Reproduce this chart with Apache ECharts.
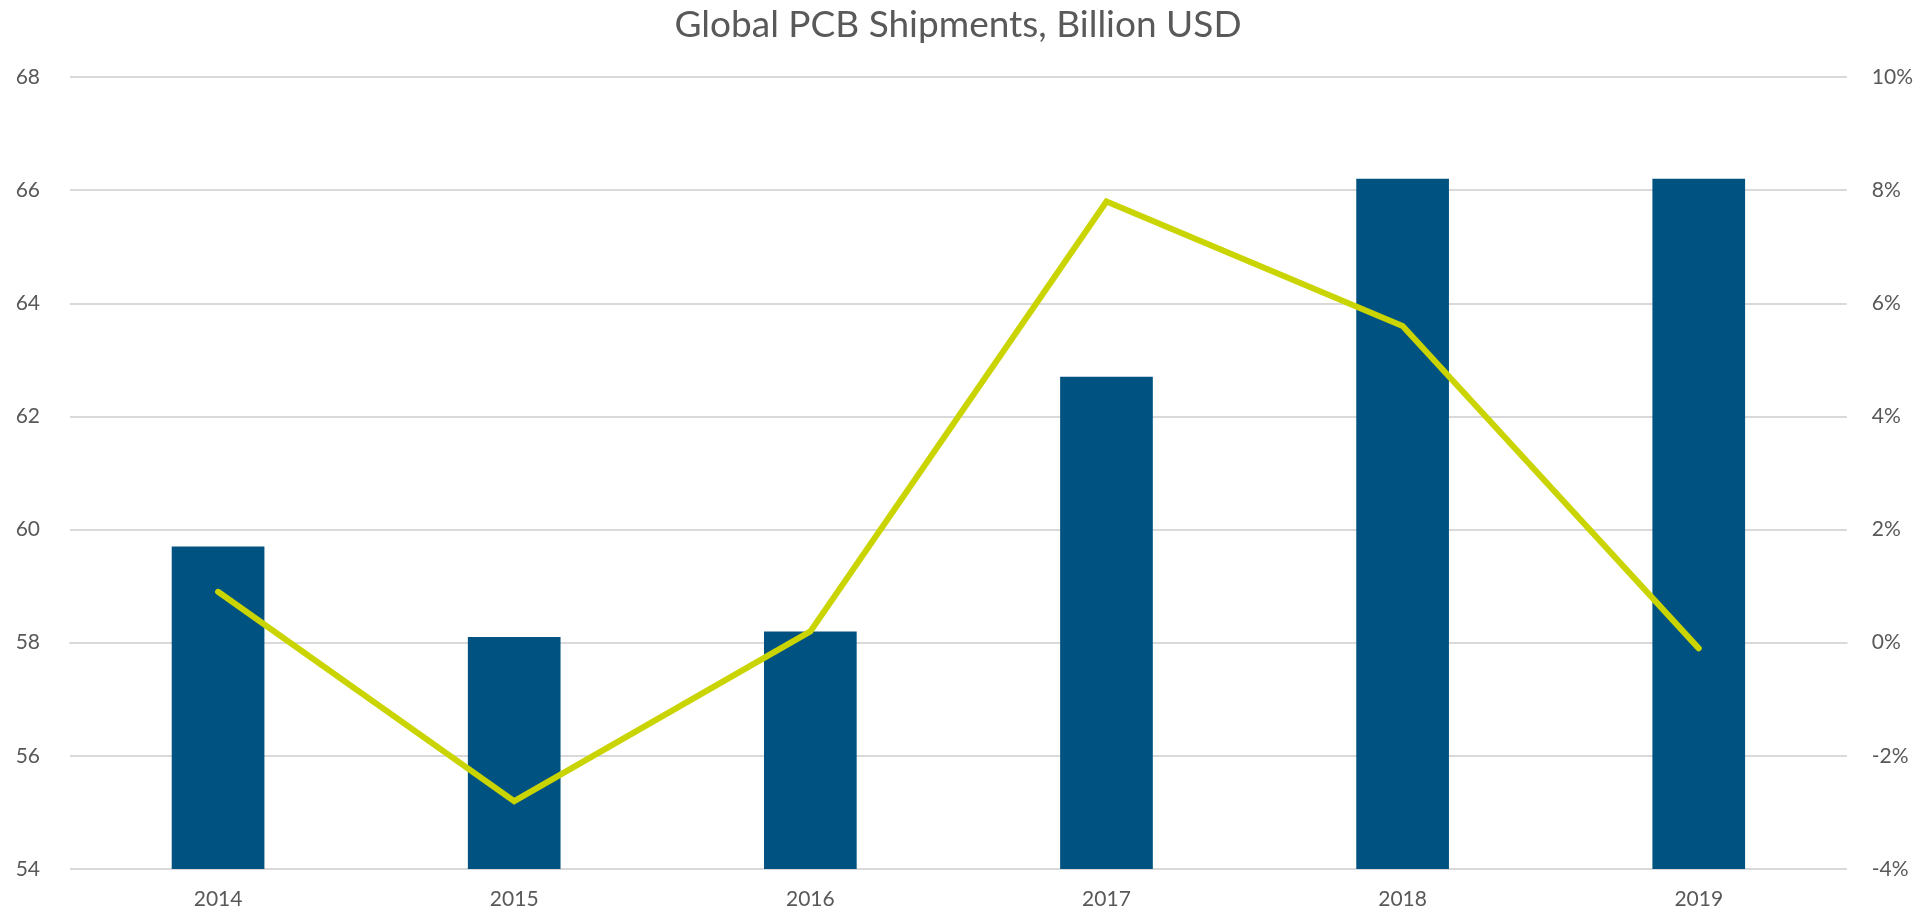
<!DOCTYPE html>
<html>
<head>
<meta charset="utf-8">
<script src="https://cdn.jsdelivr.net/npm/echarts@6/dist/echarts.min.js"></script>
<style>
html,body{margin:0;padding:0;background:#fff;}
#chart{width:1916px;height:912px;}
</style>
</head>
<body>
<div id="chart"></div>
<script>
const titleText = 'Global PCB Shipments, Billion USD';
const categories = ['2014', '2015', '2016', '2017', '2018', '2019'];
const shipments = [59.7, 58.1, 58.2, 62.7, 66.2, 66.2];
const growthPct = [0.9, -2.8, 0.2, 7.8, 5.6, -0.1];

const chart = echarts.init(document.getElementById('chart'));
const font = 'Lato, "Open Sans", sans-serif';
chart.setOption({
  animation: false,
  backgroundColor: '#ffffff',
  title: {
    text: titleText,
    left: 'center',
    top: 2,
    textStyle: { fontFamily: font, fontSize: 37, fontWeight: 'normal', color: '#595959' }
  },
  grid: { left: 70, right: 65, top: 77, bottom: 43, containLabel: false },
  xAxis: {
    type: 'category',
    data: categories,
    axisLine: { show: true, lineStyle: { color: '#d9d9d9', width: 2 } },
    axisTick: { show: false },
    axisLabel: { color: '#595959', fontFamily: font, fontSize: 21, margin: 20 }
  },
  yAxis: [
    {
      type: 'value', min: 54, max: 68, interval: 2,
      axisLine: { show: false }, axisTick: { show: false },
      splitLine: { lineStyle: { color: '#d9d9d9', width: 2 } },
      axisLabel: { color: '#595959', fontFamily: font, fontSize: 21, margin: 30 }
    },
    {
      type: 'value', min: -4, max: 10, interval: 2,
      axisLine: { show: false }, axisTick: { show: false },
      splitLine: { show: false },
      axisLabel: { color: '#595959', fontFamily: font, fontSize: 21, margin: 25, formatter: '{value}%' }
    }
  ],
  series: [
    {
      type: 'bar', name: 'Shipments', data: shipments, yAxisIndex: 0,
      barWidth: '31.3%',
      itemStyle: { color: '#005380' }
    },
    {
      type: 'line', name: 'Growth', data: growthPct, yAxisIndex: 1,
      showSymbol: false, symbol: 'none',
      lineStyle: { color: '#c9d400', width: 6, cap: 'round', join: 'miter' },
      z: 3
    }
  ]
});
</script>
</body>
</html>
